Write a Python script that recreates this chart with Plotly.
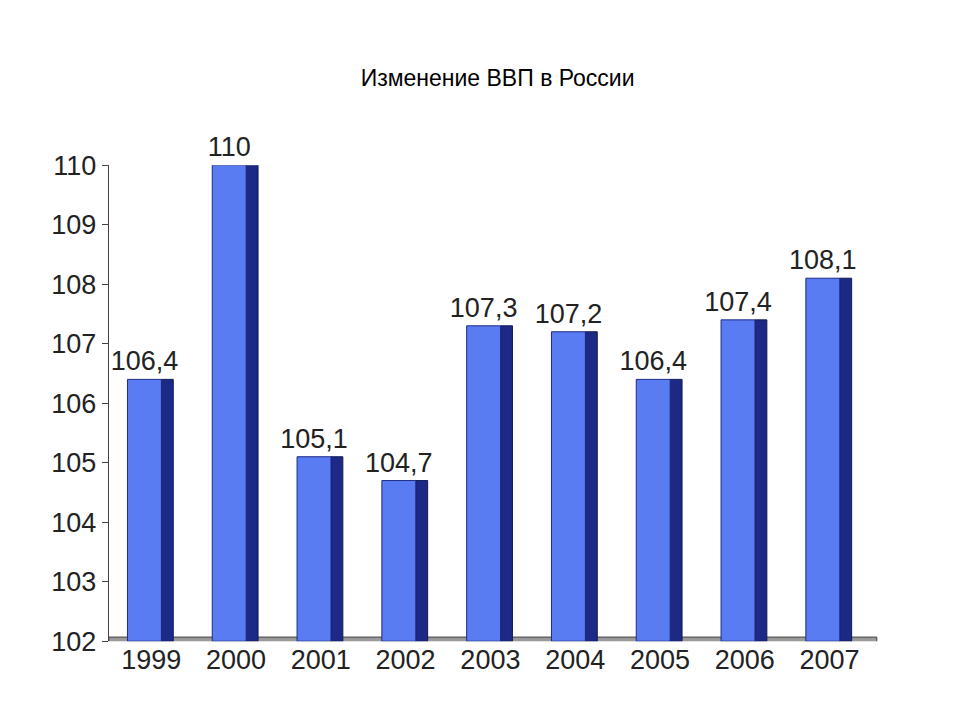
import plotly.graph_objects as go

years = ["1999", "2000", "2001", "2002", "2003", "2004", "2005", "2006", "2007"]
gdp = [106.4, 110, 105.1, 104.7, 107.3, 107.2, 106.4, 107.4, 108.1]
labels = ["106,4", "110", "105,1", "104,7", "107,3", "107,2", "106,4", "107,4", "108,1"]

font_fam = "Liberation Sans Narrow, Arial Narrow, Liberation Sans"

fig = go.Figure()
# dark side face of each bar
fig.add_trace(go.Bar(x=years, y=[v - 102 for v in gdp], base=102, width=0.14, offset=0.12,
                     marker=dict(color="#1c2a86", line=dict(color="#101a55", width=1)),
                     hoverinfo="skip"))
# front face
fig.add_trace(go.Bar(x=years, y=[v - 102 for v in gdp], base=102, width=0.4, offset=-0.28,
                     marker=dict(color="#5a7cf2", line=dict(color="#1c2a86", width=1)),
                     text=labels, textposition="outside", cliponaxis=False, constraintext="none",
                     textfont=dict(size=27, color="#222", family=font_fam)))

fig.add_shape(type="rect", xref="paper", yref="y", x0=0.105, x1=0.905, y0=101.98, y1=102.07,
              fillcolor="#9a9a9a", line=dict(color="#444", width=1), layer="below")

fig.update_layout(
    width=960, height=720, barmode="overlay", showlegend=False,
    plot_bgcolor="white", paper_bgcolor="white", separators=", ",
    title=dict(text="Изменение ВВП в России", x=0.51, y=0.914, xanchor="center",
               font=dict(size=23, color="black", family="Liberation Sans")),
    margin=dict(l=0, r=0, t=0, b=0),
    xaxis=dict(domain=[0.105, 0.9], showgrid=False, showline=False, ticks="",
               tickfont=dict(size=27, color="#222", family=font_fam)),
    yaxis=dict(domain=[0.104, 0.794], range=[102, 110], dtick=1, showgrid=False,
               showline=True, linecolor="#444", ticks="outside", ticklen=6, tickcolor="#444",
               tickfont=dict(size=27, color="#222", family=font_fam)),
)

fig.write_html("out.html")
